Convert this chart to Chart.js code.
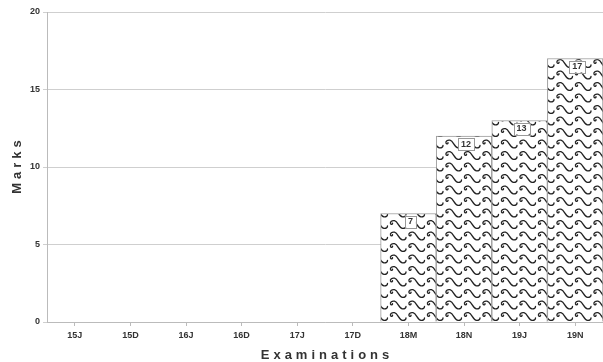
<!DOCTYPE html>
<html>
<head>
<meta charset="utf-8">
<script src="https://cdn.jsdelivr.net/npm/chart.js@4/dist/chart.umd.min.js"></script>
<style>
html,body{margin:0;padding:0;background:#fff;}
#wrap{width:603px;height:362px;position:relative;}
</style>
</head>
<body>
<div id="wrap"><canvas id="c" width="603" height="362"></canvas></div>
<script>
const categories = ["15J","15D","16J","16D","17J","17D","18M","18N","19J","19N"];
const marks = [0,0,0,0,0,0,7,12,13,17];
const yTicks = [0,5,10,15,20];
const xTitle = "Examinations";
const yTitle = "Marks";

function makeWave(){
  const W = 18.5, H = 11.5;
  const c = document.createElement('canvas');
  c.width = 37; c.height = 23;
  const g = c.getContext('2d');
  g.fillStyle = '#fff';
  g.fillRect(0,0,c.width,c.height);
  g.setTransform(-1, 0, 0, 1, c.width, 0);
  g.strokeStyle = '#222';
  g.lineWidth = 1.35;
  g.lineCap = 'round';
  g.lineJoin = 'round';
  for (let i = -1; i <= 2; i++) {
    for (let j = -1; j <= 2; j++) {
      const dx = i*W, dy = j*H;
      g.beginPath();
      g.moveTo(dx+1, dy+7.5);
      g.bezierCurveTo(dx+1, dy+9.3, dx+2.5, dy+10, dx+4.5, dy+9.8);
      g.bezierCurveTo(dx+8, dy+9.5, dx+9, dy+3, dx+12.5, dy+2.2);
      g.bezierCurveTo(dx+15, dy+1.7, dx+17, dy+3.2, dx+16.5, dy+5);
      g.bezierCurveTo(dx+16, dy+6.3, dx+14.2, dy+6, dx+14.5, dy+4.6);
      g.stroke();
    }
  }
  return c;
}

const ctx0 = document.getElementById('c').getContext('2d');
const wavePattern = ctx0.createPattern(makeWave(), 'repeat');

const titlesPlugin = {
  id: 'titles',
  afterDraw(chart){
    const ctx = chart.ctx;
    const a = chart.chartArea;
    ctx.save();
    ctx.fillStyle = '#333';
    ctx.font = 'bold 13px "Liberation Sans", Arial, sans-serif';
    ctx.letterSpacing = '4px';
    ctx.textAlign = 'center';
    ctx.textBaseline = 'alphabetic';
    ctx.fillText(xTitle, (a.left + a.right)/2 + 2, 359);
    ctx.translate(21, (a.top + a.bottom)/2);
    ctx.rotate(-Math.PI/2);
    ctx.fillText(yTitle, 2, 0);
    ctx.restore();
  }
};

const labelPlugin = {
  id: 'barLabels',
  afterDatasetsDraw(chart){
    const ctx = chart.ctx;
    const meta = chart.getDatasetMeta(0);
    ctx.save();
    ctx.font = 'bold 9px "Liberation Sans", Arial, sans-serif';
    ctx.textAlign = 'center';
    ctx.textBaseline = 'middle';
    meta.data.forEach((el, i) => {
      const v = marks[i];
      if (!v) return;
      const t = String(v);
      const w = ctx.measureText(t).width + 6;
      const h = 12;
      const cx = el.x + 2, cy = el.y + 8;
      ctx.fillStyle = '#fff';
      ctx.fillRect(cx - w/2, cy - h/2, w, h);
      ctx.strokeStyle = '#999';
      ctx.lineWidth = 1;
      ctx.strokeRect(Math.round(cx - w/2)+0.5, Math.round(cy - h/2)+0.5, Math.round(w), h);
      ctx.fillStyle = '#333';
      ctx.fillText(t, cx, cy + 0.5);
    });
    ctx.restore();
  }
};

new Chart(document.getElementById('c'), {
  type: 'bar',
  data: {
    labels: categories,
    datasets: [{
      data: marks,
      backgroundColor: wavePattern,
      borderColor: '#9a9a9a',
      borderWidth: 1,
      barPercentage: 1,
      categoryPercentage: 1
    }]
  },
  options: {
    responsive: false,
    animation: false,
    devicePixelRatio: 1,
    layout: { padding: { top: 12, right: 0, left: 0, bottom: 0 } },
    plugins: { legend: { display: false }, tooltip: { enabled: false } },
    scales: {
      x: {
        grid: { display: true, drawOnChartArea: false, drawTicks: true, tickLength: 4, offset: false, color: '#bbb' },
        border: { display: true, color: '#bbb' },
        ticks: { color: '#333', font: { family: '"Liberation Sans", Arial, sans-serif', size: 9, weight: 'bold' }, padding: 4, maxRotation: 0, autoSkip: false },
        afterFit(s){ s.height = 40; }
      },
      y: {
        min: 0, max: 20,
        afterBuildTicks(s){ s.ticks = yTicks.map(v => ({ value: v })); },
        grid: { color: '#cfcfcf', drawTicks: true, tickLength: 4 },
        border: { display: true, color: '#bbb' },
        ticks: { color: '#333', font: { family: '"Liberation Sans", Arial, sans-serif', size: 9, weight: 'bold' }, padding: 3 },
        afterFit(s){ s.width = 47; }
      }
    }
  },
  plugins: [titlesPlugin, labelPlugin]
});
</script>
</body>
</html>
